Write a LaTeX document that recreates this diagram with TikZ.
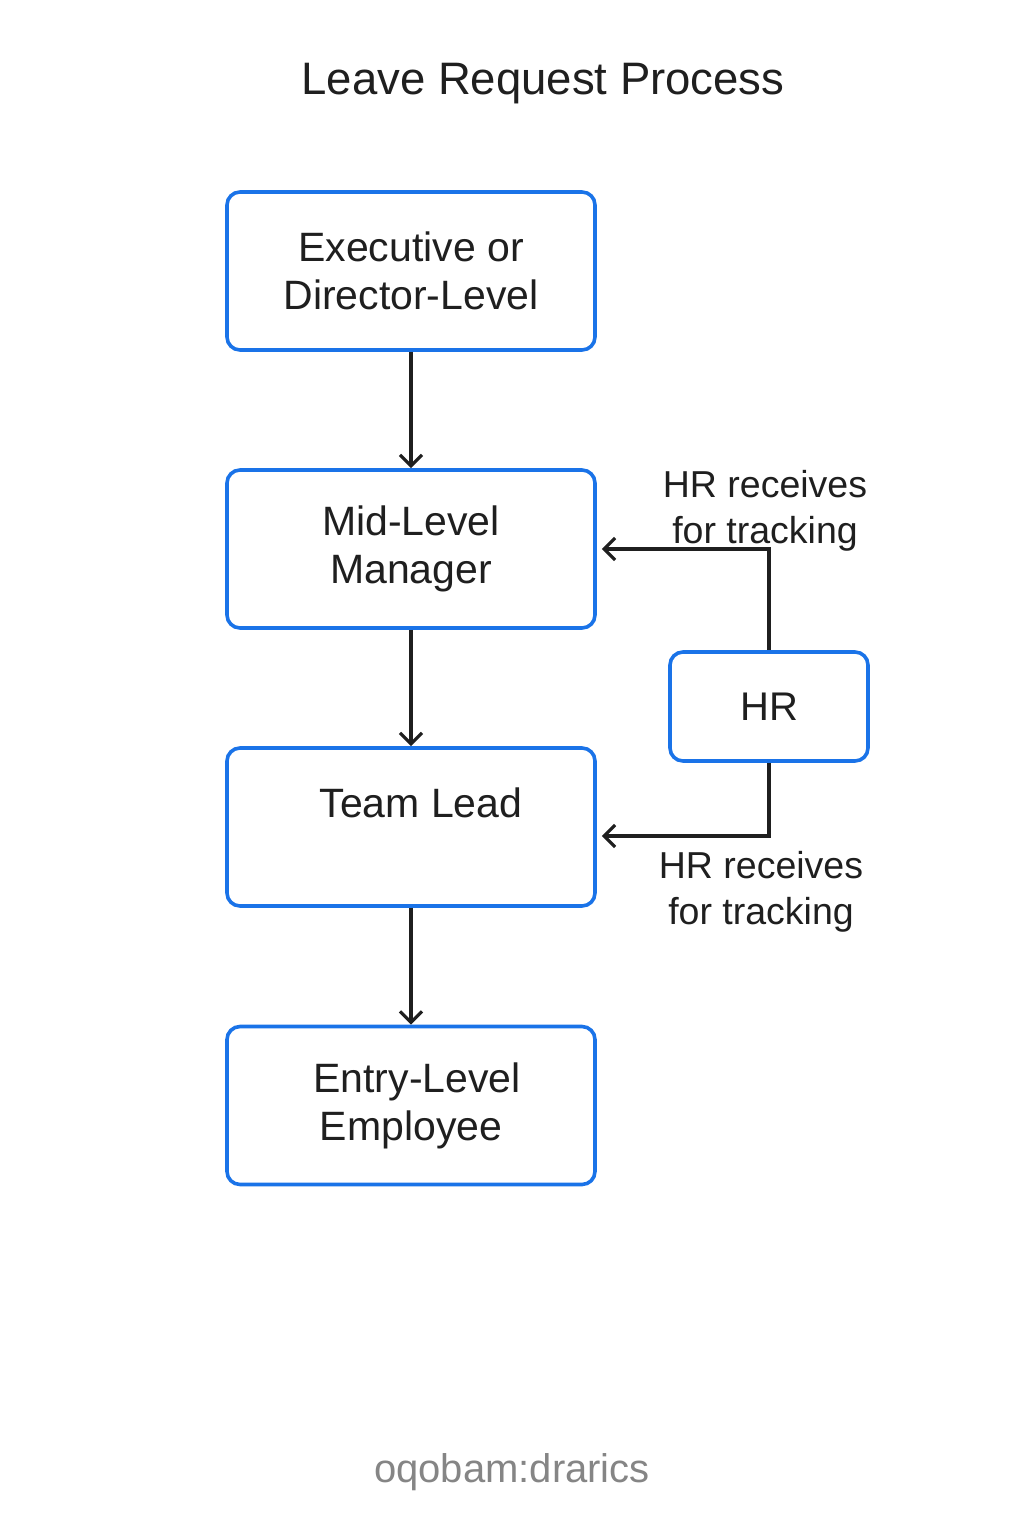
\documentclass[tikz,border=0pt]{standalone}
\usepackage{fontspec}
\setmainfont{Liberation Sans}
\usetikzlibrary{arrows.meta}
\definecolor{boxblue}{HTML}{1A73E8}
\definecolor{ink}{HTML}{1F1F1F}
\definecolor{wm}{HTML}{858585}
\begin{document}
\begin{tikzpicture}[x=1pt,y=-1pt,
  stepbox/.style={draw=boxblue, line width=3.6pt, rounded corners=13pt, fill=white,
    minimum width=368pt, minimum height=158pt, align=center, text=ink,
    font=\fontsize{41}{48}\selectfont, inner sep=0pt},
  hrbox/.style={draw=boxblue, line width=3.6pt, rounded corners=13pt, fill=white,
    minimum width=198pt, minimum height=109pt, align=center, text=ink,
    font=\fontsize{40}{48}\selectfont, inner sep=0pt},
  arr/.style={draw=ink, line width=3.2pt, -{Straight Barb[length=11pt,width=22pt,line width=3.2pt]}},
  note/.style={align=center, text=ink, font=\fontsize{37.5}{46}\selectfont, inner sep=0pt}]
\useasboundingbox (0,0) rectangle (1024,1536);
\fill[white] (0,0) rectangle (1024,1536);

\node[text=ink, font=\fontsize{45.5}{52}\selectfont] (title) at (543,84) {Leave Request Process};

\node[stepbox] (exec) at (411,271) {Executive or\\Director-Level};
\node[stepbox] (mid) at (411,549) {Mid-Level\\Manager};
\node[stepbox] (team) at (411,827) {\hspace*{20pt}Team Lead\\\mbox{}};
\node[stepbox] (entry) at (411,1105.5) {\hspace*{12pt}Entry-Level\\Employee};
\node[hrbox] (hr) at (769,706.5) {HR};

\draw[arr] (exec.south) -- (mid.north);
\draw[arr] (mid.south) -- (team.north);
\draw[arr] (team.south) -- (entry.north);

\draw[arr] (hr.north) |- ([xshift=5pt]mid.east);
\draw[arr] (hr.south) |- ([xshift=5pt,yshift=-9pt]team.east);

\node[note] (n1) at (765,511) {HR receives\\for tracking};
\node[note] (n2) at (761,892) {HR receives\\for tracking};

\node[text=wm, font=\fontsize{40}{46}\selectfont] (mark) at (512,1472) {oqobam:drarics};
\end{tikzpicture}
\end{document}
